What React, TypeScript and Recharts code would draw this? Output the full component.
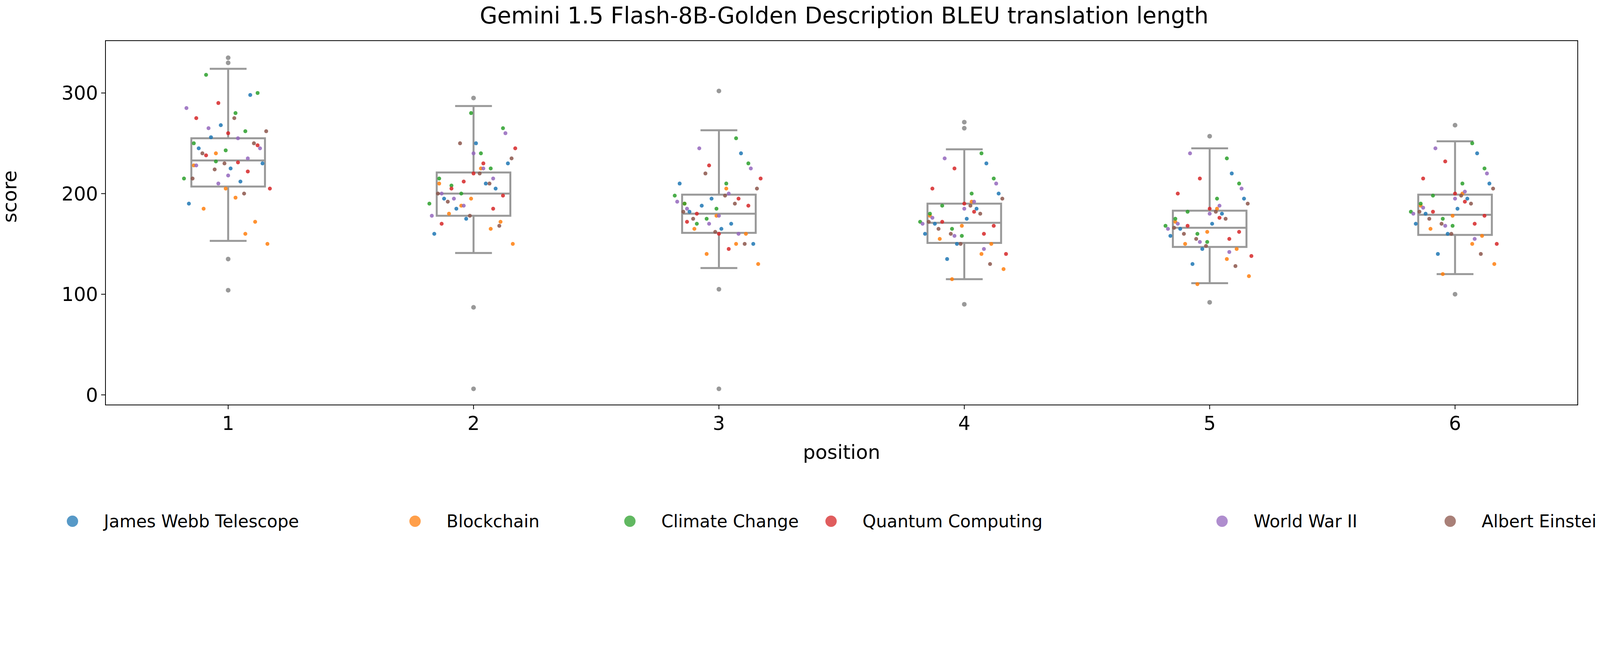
import React from "react";
import { ScatterChart, Scatter, XAxis, YAxis, ReferenceArea, ReferenceLine } from "recharts";

const positions = [1, 2, 3, 4, 5, 6];
const topics = ["James Webb Telescope", "Blockchain", "Climate Change", "Quantum Computing", "World War II", "Albert Einstein"];
const colors = ["#1f77b4", "#ff7f0e", "#2ca02c", "#d62728", "#9467bd", "#8c564b"];

// scores per topic, one row per position
const jwt = [[245,212,268,230,190,298,225,256],[195,210,175,230,160,205,250,185],[182,170,195,150,210,240,165,188],[170,185,150,200,160,230,175,135],[165,180,145,195,158,220,170,130],[180,195,160,210,170,240,185,140]];
const blockchain = [[185,160,205,150,228,172,196,240],[180,165,195,150,210,172,225,188],[165,150,178,130,190,160,205,140],[155,140,168,125,178,150,192,115],[150,135,162,118,172,145,185,110],[165,150,178,130,188,158,200,120]];
const climate = [[250,280,232,300,215,262,243,318],[215,240,200,265,190,225,280,208],[190,210,175,230,198,255,185,170],[180,200,165,215,172,240,158,188],[175,195,160,210,168,235,152,182],[190,210,175,225,182,250,168,198]];
const quantum = [[238,222,260,205,275,248,231,290],[205,185,220,245,170,198,230,212],[180,195,160,215,172,188,145,228],[172,160,190,140,205,168,182,225],[168,155,185,138,200,162,176,215],[182,170,200,150,215,178,192,232]];
const ww2 = [[228,255,210,245,285,235,218,265],[200,225,188,260,178,215,240,195],[185,200,170,225,192,160,178,245],[176,192,158,210,170,145,185,235],[170,188,152,205,165,142,180,240],[186,202,168,220,180,155,195,245]];
const einstein = [[240,200,230,262,215,250,275,224],[192,210,178,235,200,168,220,250],[175,190,162,205,182,150,198,220],[165,180,150,195,172,130,188,160],[160,175,148,190,166,128,182,155],[175,190,160,205,182,140,198,170]];
const topicScores = [jwt, blockchain, climate, quantum, ww2, einstein];
const jitter = [-0.12, 0.05, -0.03, 0.14, -0.16, 0.09, 0.01, -0.07];
const topicShift = [0, 0.02, -0.02, 0.03, -0.01, 0.015];

// box stats per position
const q1 = [207, 178, 161, 151, 147, 159];
const median = [233, 200, 180, 171, 166, 179];
const q3 = [255, 221, 199, 190, 183, 199];
const whiskLo = [153, 141, 126, 115, 111, 120];
const whiskHi = [324, 287, 263, 244, 245, 252];
const outliers = [[335, 330, 135, 104], [295, 87, 6], [302, 105, 6], [271, 265, 90], [257, 92], [268, 100]];

const BOX = "#999999";
const font = "DejaVu Sans, sans-serif";
const K = 0.81; // page renders larger than its css pixels

const px = (v: number) => Math.round(v * K);

export default function App() {
  const series = topics.map((t, ti) => ({
    name: t,
    color: colors[ti],
    data: topicScores[ti].flatMap((row, pi) =>
      row.map((s, k) => ({ x: positions[pi] + jitter[k] + topicShift[ti], y: s }))
    ),
  }));
  const outlierData = outliers.flatMap((row, pi) => row.map((s) => ({ x: positions[pi], y: s })));
  const sw = px(6);

  return (
    <div style={{ position: "relative", width: px(5177), height: px(1693), fontFamily: font }}>
      <div style={{ position: "absolute", left: px(331), width: px(4654), top: 0, textAlign: "center", fontSize: px(72), lineHeight: px(80) + "px" }}>
        Gemini 1.5 Flash-8B-Golden Description BLEU translation length
      </div>
      <ScatterChart width={px(5177)} height={px(1693)} margin={{ top: px(118), right: px(200), left: 0, bottom: px(253) }}>
        <XAxis
          type="number" dataKey="x" domain={[0.5, 6.5]} ticks={positions} allowDataOverflow
          stroke="#000" strokeWidth={2} tickSize={px(14)} height={px(170)}
          tick={{ fontSize: px(60), fill: "#000", fontFamily: font, dy: px(20) }}
          label={{ value: "position", position: "insideBottom", offset: 0, fontSize: px(62), fill: "#000", fontFamily: font }}
        />
        <YAxis
          type="number" dataKey="y" domain={[-10, 352]} ticks={[0, 100, 200, 300]} allowDataOverflow
          stroke="#000" strokeWidth={2} tickSize={px(14)} width={px(323)}
          tick={{ fontSize: px(60), fill: "#000", fontFamily: font, dx: -px(8) }}
          label={{ value: "score", angle: -90, position: "insideLeft", offset: px(20), fontSize: px(62), fill: "#000", fontFamily: font }}
        />
        {series.map((s) => (
          <Scatter key={s.name} name={s.name} data={s.data} fill={s.color} fillOpacity={0.85} isAnimationActive={false}
            shape={(p: any) => <circle cx={p.cx} cy={p.cy} r={px(6)} fill={s.color} fillOpacity={0.85} />} />
        ))}
        {positions.map((p, i) => (
          <ReferenceArea key={"b" + i} x1={p - 0.15} x2={p + 0.15} y1={q1[i]} y2={q3[i]} fill="none" fillOpacity={0} stroke={BOX} strokeWidth={sw} />
        ))}
        {positions.map((p, i) => (
          <ReferenceLine key={"m" + i} segment={[{ x: p - 0.15, y: median[i] }, { x: p + 0.15, y: median[i] }]} stroke={BOX} strokeWidth={sw} />
        ))}
        {positions.map((p, i) => (
          <ReferenceLine key={"wh" + i} segment={[{ x: p, y: q3[i] }, { x: p, y: whiskHi[i] }]} stroke={BOX} strokeWidth={sw} />
        ))}
        {positions.map((p, i) => (
          <ReferenceLine key={"wl" + i} segment={[{ x: p, y: q1[i] }, { x: p, y: whiskLo[i] }]} stroke={BOX} strokeWidth={sw} />
        ))}
        {positions.map((p, i) => (
          <ReferenceLine key={"ch" + i} segment={[{ x: p - 0.075, y: whiskHi[i] }, { x: p + 0.075, y: whiskHi[i] }]} stroke={BOX} strokeWidth={sw} />
        ))}
        {positions.map((p, i) => (
          <ReferenceLine key={"cl" + i} segment={[{ x: p - 0.075, y: whiskLo[i] }, { x: p + 0.075, y: whiskLo[i] }]} stroke={BOX} strokeWidth={sw} />
        ))}
        <Scatter name="outliers" data={outlierData} fill={BOX} isAnimationActive={false}
          shape={(p: any) => <circle cx={p.cx} cy={p.cy} r={px(8)} fill={BOX} />} />
        <ReferenceArea x1={0.5} x2={6.5} y1={-10} y2={352} fill="none" fillOpacity={0} stroke="#000" strokeWidth={2} />
      </ScatterChart>
      {topics.map((t, i) => {
        const left = [201, 1284, 1963, 2599, 3834, 4556][i];
        return (
          <div key={t} style={{ position: "absolute", left: px(left), top: px(1605), display: "flex", alignItems: "center", fontSize: px(54), whiteSpace: "nowrap" }}>
            <span style={{ width: px(36), height: px(36), borderRadius: px(18), background: colors[i], opacity: 0.75, display: "inline-block", marginRight: px(82) }} />
            {t}
          </div>
        );
      })}
    </div>
  );
}
